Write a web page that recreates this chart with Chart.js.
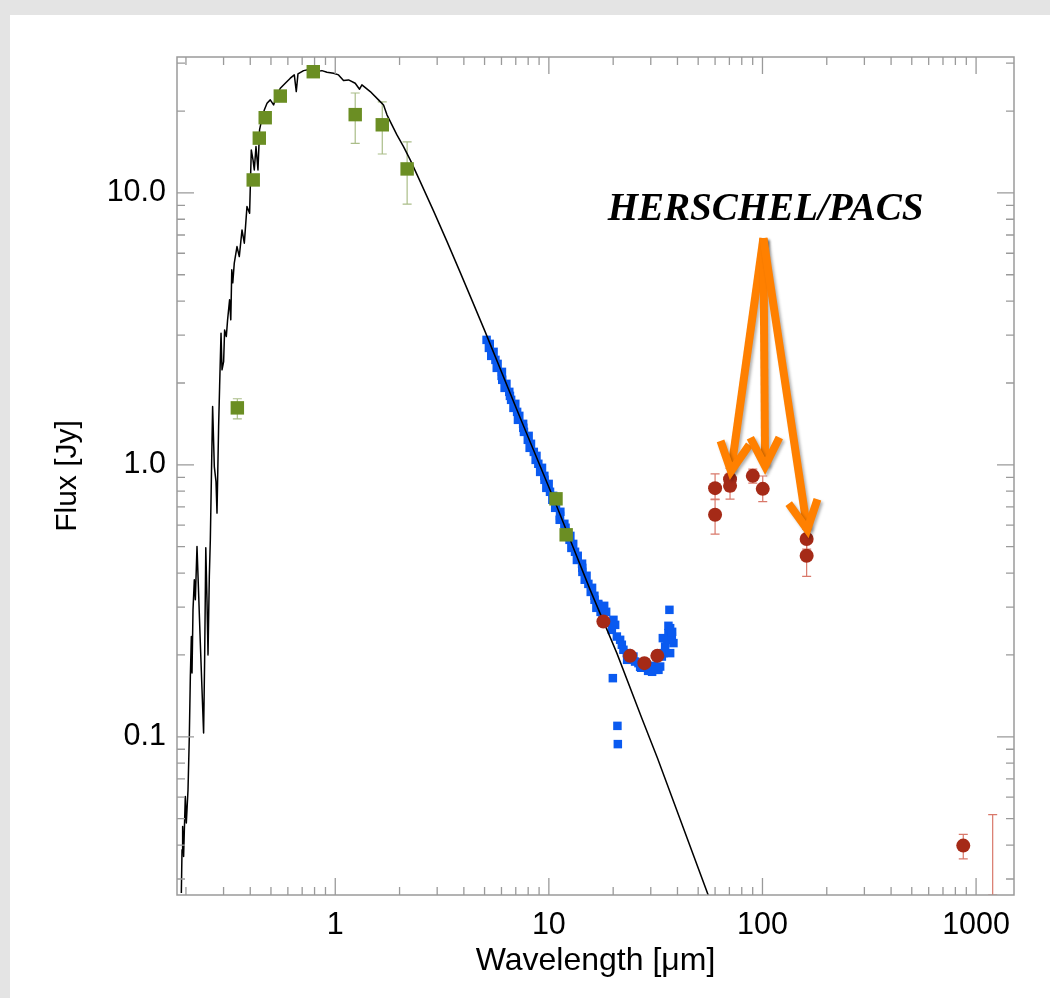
<!DOCTYPE html>
<html>
<head>
<meta charset="utf-8">
<script src="https://cdn.jsdelivr.net/npm/chart.js@4.4.1/dist/chart.umd.min.js"></script>
<style>
html,body{margin:0;padding:0;background:#e4e4e4;width:1050px;height:998px;overflow:hidden;}
#wrap{position:absolute;left:10px;top:15px;width:1040px;height:983px;background:#fff;}
canvas{display:block;}
</style>
</head>
<body>
<div id="wrap"><canvas id="c" width="1040" height="983"></canvas></div>
<script>
// ---------- axis ticks ----------
const xTickValues = [1, 10, 100, 1000];
const xTickLabels = ['1', '10', '100', '1000'];
const yTickValues = [0.1, 1, 10];
const yTickLabels = ['0.1', '1.0', '10.0'];
const xMinorTicks = [0.2,0.3,0.4,0.5,0.6,0.7,0.8,0.9,2,3,4,5,6,7,8,9,20,30,40,50,60,70,80,90,200,300,400,500,600,700,800,900];
const yMinorTicks = [0.03,0.04,0.05,0.06,0.07,0.08,0.09,0.2,0.3,0.4,0.5,0.6,0.7,0.8,0.9,2,3,4,5,6,7,8,9,20,30];

// ---------- stellar photosphere model (black line) ----------
const modelWave = [0.1903,0.1917,0.1930,0.1950,0.1986,0.2008,0.2045,0.2074,0.2097,0.2120,0.2135,0.2158,0.2189,0.2213,0.2253,0.2292,0.2335,0.2378,0.2419,0.2446,0.2477,0.2509,0.2537,0.2573,0.2601,0.2666,0.2715,0.2765,0.2795,0.2844,0.2875,0.2919,0.2950,0.3002,0.3034,0.3090,0.3133,0.3201,0.3243,0.3278,0.3313,0.3367,0.3467,0.3554,0.3660,0.3752,0.3861,0.3972,0.4045,0.4121,0.4178,0.4255,0.4347,0.4422,0.4540,0.4654,0.4792,0.4963,0.5143,0.5295,0.5530,0.5834,0.6159,0.6431,0.6569,0.6690,0.7110,0.7637,0.8213,0.8665,0.9145,0.9818,1.036,1.093,1.154,1.240,1.299,1.333,1.458,1.594,1.683,1.746,1.842,1.944,2.087,2.244,2.499,2.884,3.333,3.845,4.377,5.035,7.339,10.90,15.61,20.81,27.24,32.23,55.65,63.33];
const modelFlux = [0.02663,0.03842,0.04680,0.03630,0.06033,0.04817,0.06385,0.1003,0.1666,0.2337,0.1715,0.2930,0.3778,0.3190,0.5007,0.3385,0.2211,0.1489,0.1032,0.1919,0.4952,0.3190,0.2001,0.3885,0.5300,1.638,0.9857,0.8681,0.6645,1.383,1.941,3.050,2.235,2.398,3.135,2.963,3.413,4.043,3.413,5.212,4.669,5.515,6.348,5.832,7.311,6.533,8.905,8.421,14.39,13.22,12.15,14.80,12.15,17.04,18.82,20.19,21.37,21.98,21.06,22.59,24.26,25.31,26.41,27.16,23.58,27.39,28.16,28.50,27.93,28.16,27.79,27.55,27.16,25.88,26.03,25.31,24.06,24.95,23.58,21.98,21.06,19.36,17.78,16.34,14.80,13.22,11.00,8.587,6.633,5.103,4.008,3.083,1.489,0.7026,0.3470,0.2031,0.1171,0.0835,0.02624,0.01985];

// ---------- Spitzer/IRS spectrum (blue squares) ----------
const blueWave = [5.110,5.287,5.240,5.510,5.374,5.621,5.754,5.702,6.029,6.008,6.051,6.329,6.206,6.526,6.573,6.657,6.963,6.827,7.102,7.270,7.167,7.577,7.591,7.646,8.041,7.969,8.246,8.129,8.502,8.750,8.673,8.926,9.286,9.104,9.523,9.540,9.979,9.731,10.124,10.476,10.383,10.801,10.705,11.317,11.277,11.237,11.818,11.968,11.990,12.608,12.496,12.999,12.746,13.259,13.650,13.528,14.302,14.329,14.355,15.012,14.719,15.310,15.929,15.703,16.335,16.365,17.025,16.693,17.459,17.873,
  18.54,17.01,18.15,19.15,20.06,19.72,20.43,20.81,21.56,21.96,22.34,23.17,23.25,24.01,24.88,25.33,26.27,26.75,27.04,27.72,28.22,28.74,29.15,29.79,30.43,31.10,31.61,32.03,32.59,33.19,33.80,34.39,34.16,35.02,35.67,36.29,36.96,37.64,38.30,36.96,36.29,37.76,36.68,19.93,20.94,21.03];
const blueFlux = [2.881,2.785,2.692,2.603,2.516,2.432,2.351,2.273,2.197,2.124,2.054,1.985,1.919,1.855,1.793,1.734,1.676,1.620,1.566,1.514,1.464,1.415,1.368,1.322,1.278,1.236,1.195,1.155,1.116,1.079,1.043,1.009,0.975,0.942,0.911,0.881,0.851,0.823,0.796,0.769,0.744,0.719,0.695,0.672,0.649,0.628,0.607,0.587,0.567,0.548,0.530,0.512,0.495,0.479,0.463,0.447,0.433,0.418,0.404,0.391,0.378,0.365,0.353,0.341,0.330,0.319,0.308,0.298,0.288,0.279,
  0.2881,0.3057,0.3031,0.2648,0.2692,0.2473,0.2580,0.2337,0.2273,0.2180,0.2089,0.2031,0.1919,0.2001,0.1973,0.1891,0.1866,0.1809,0.1794,0.1866,0.1794,0.1839,0.1748,0.1789,0.1734,0.1824,0.1763,0.2001,0.1763,0.1813,0.1973,0.2031,0.2306,0.2148,0.2273,0.2405,0.2509,0.2337,0.2211,0.2031,0.2559,0.2432,0.2930,0.1643,0.1097,0.0940];

// ---------- optical / near-IR photometry (green squares) ----------
const greenWave = [0.348,0.413,0.441,0.470,0.553,0.789,1.24,1.66,2.17,10.8,12.05];
const greenFlux = [1.62,11.16,15.9,18.9,22.7,27.9,19.4,17.8,12.25,0.75,0.553];
const greenErrLo = [1.476,null,null,null,null,null,15.2,13.9,9.09,null,null];
const greenErrHi = [1.75,null,null,null,null,null,23.3,21.6,15.4,null,null];

// ---------- mid/far-IR and sub-mm photometry (red circles) ----------
const redWave = [18.0,24.0,28.0,32.2,60.0,60.0,70.5,70.5,90.1,100.3,161,161,871];
const redFlux = [0.2654,0.1985,0.1866,0.1985,0.821,0.655,0.886,0.837,0.911,0.816,0.534,0.463,0.0398];
const redErrLo = [null,null,null,null,0.744,0.556,0.80,0.748,0.856,0.733,0.49,0.389,0.0356];
const redErrHi = [null,null,null,null,0.927,0.748,0.97,0.93,0.964,0.91,0.58,0.53,0.0438];
const limitWave = [1196];
const limitHi = [0.0517];
const limitLo = [0.0262];

// ---------- annotation ----------
const annotationText = 'HERSCHEL/PACS';
const annotationAt = [103.4, 7.95];
const arrowFrom = [101, 6.82];
const arrowTipWave = [70.5, 102.9, 164];
const arrowTipFlux = [0.894, 0.932, 0.545];

const toPts = (xs, ys) => xs.map((v, i) => ({x: v, y: ys[i]}));

const overlay = {
  id: 'overlay',
  beforeDatasetsDraw(chart) {
    const {ctx, chartArea: a, scales: {x, y}} = chart;
    ctx.save();
    ctx.beginPath();
    ctx.rect(a.left, a.top, a.right - a.left, a.bottom - a.top);
    ctx.clip();
    chart.data.datasets.forEach(ds => {
      if (!ds.errLo) return;
      ctx.strokeStyle = ds.errColor;
      ctx.lineWidth = 1.2;
      ds.data.forEach((p, i) => {
        const lo = ds.errLo[i], hi = ds.errHi[i];
        if (lo == null) return;
        const px = x.getPixelForValue(p.x), y1 = y.getPixelForValue(lo), y2 = y.getPixelForValue(hi);
        ctx.beginPath();
        ctx.moveTo(px, y1); ctx.lineTo(px, y2);
        ctx.moveTo(px - 4.5, y1); ctx.lineTo(px + 4.5, y1);
        ctx.moveTo(px - 4.5, y2); ctx.lineTo(px + 4.5, y2);
        ctx.stroke();
      });
    });
    ctx.strokeStyle = '#d9786a';
    limitWave.forEach((w, i) => {
      const px = x.getPixelForValue(w), y1 = y.getPixelForValue(limitLo[i]), y2 = y.getPixelForValue(limitHi[i]);
      ctx.beginPath();
      ctx.moveTo(px, y1); ctx.lineTo(px, y2);
      ctx.moveTo(px - 4.5, y1); ctx.lineTo(px + 4.5, y1);
      ctx.moveTo(px - 4.5, y2); ctx.lineTo(px + 4.5, y2);
      ctx.stroke();
    });
    ctx.restore();
  },
  afterDatasetsDraw(chart) {
    const {ctx, chartArea: a, scales: {x, y}} = chart;
    ctx.save();
    // frame
    ctx.strokeStyle = '#9a9a9a';
    ctx.lineWidth = 1.5;
    ctx.strokeRect(a.left, a.top, a.right - a.left, a.bottom - a.top);
    ctx.lineWidth = 1.3;
    const tickX = (v, len) => {
      const px = x.getPixelForValue(v);
      ctx.beginPath();
      ctx.moveTo(px, a.bottom); ctx.lineTo(px, a.bottom - len);
      ctx.moveTo(px, a.top); ctx.lineTo(px, a.top + len);
      ctx.stroke();
    };
    const tickY = (v, len) => {
      const py = y.getPixelForValue(v);
      ctx.beginPath();
      ctx.moveTo(a.left, py); ctx.lineTo(a.left + len, py);
      ctx.moveTo(a.right, py); ctx.lineTo(a.right - len, py);
      ctx.stroke();
    };
    xTickValues.forEach(v => tickX(v, 17));
    xMinorTicks.forEach(v => tickX(v, 8));
    yTickValues.forEach(v => tickY(v, 17));
    yMinorTicks.forEach(v => tickY(v, 8));
    ctx.restore();

    // arrows
    ctx.save();
    ctx.strokeStyle = '#ff8000';
    ctx.lineWidth = 8;
    ctx.lineJoin = 'miter';
    ctx.lineCap = 'butt';
    ctx.shadowColor = 'rgba(0,0,0,0.3)';
    ctx.shadowOffsetX = 2;
    ctx.shadowOffsetY = 2;
    ctx.shadowBlur = 3;
    const O = {x: x.getPixelForValue(arrowFrom[0]), y: y.getPixelForValue(arrowFrom[1])};
    arrowTipWave.forEach((tw, i) => {
      const T0 = {x: x.getPixelForValue(tw), y: y.getPixelForValue(arrowTipFlux[i])};
      const dx = O.x - T0.x, dy = O.y - T0.y, L = Math.hypot(dx, dy);
      const ux = dx / L, uy = dy / L;
      const T = {x: T0.x + 7 * ux, y: T0.y + 7 * uy};
      const ang = 27 * Math.PI / 180, len = 32;
      const arm = s => ({x: T.x + len * (ux * Math.cos(s) - uy * Math.sin(s)), y: T.y + len * (ux * Math.sin(s) + uy * Math.cos(s))});
      const A = arm(ang), B = arm(-ang);
      ctx.beginPath(); ctx.moveTo(O.x, O.y); ctx.lineTo(T.x, T.y); ctx.stroke();
      ctx.beginPath(); ctx.moveTo(A.x, A.y); ctx.lineTo(T.x, T.y); ctx.lineTo(B.x, B.y); ctx.stroke();
    });
    ctx.restore();

    // label
    ctx.save();
    ctx.fillStyle = '#000';
    ctx.font = 'italic bold 39px "Liberation Serif", "DejaVu Serif", serif';
    ctx.textAlign = 'center';
    ctx.textBaseline = 'alphabetic';
    ctx.fillText(annotationText, x.getPixelForValue(annotationAt[0]), y.getPixelForValue(annotationAt[1]));
    ctx.restore();
  }
};

const sans = '"Liberation Sans", Arial, Helvetica, sans-serif';

new Chart(document.getElementById('c'), {
  type: 'scatter',
  data: {
    datasets: [
      {
        label: 'IR photometry', data: toPts(redWave, redFlux),
        pointStyle: 'circle', pointRadius: 7, pointBackgroundColor: '#a52a17', backgroundColor: '#a52a17',
        pointBorderWidth: 0, errLo: redErrLo, errHi: redErrHi, errColor: '#d9786a'
      },
      {
        label: 'Optical/NIR photometry', data: toPts(greenWave, greenFlux),
        pointStyle: 'rect', pointRadius: 9.5, pointBackgroundColor: '#6b8e23', backgroundColor: '#6b8e23',
        pointBorderWidth: 0, errLo: greenErrLo, errHi: greenErrHi, errColor: '#aabd88'
      },
      {
        label: 'Photosphere model', data: toPts(modelWave, modelFlux),
        showLine: true, borderColor: '#000', borderWidth: 1.5, pointRadius: 0,
        borderJoinStyle: 'round', tension: 0, fill: false
      },
      {
        label: 'IRS spectrum', data: toPts(blueWave, blueFlux),
        pointStyle: 'rect', pointRadius: 6, pointBackgroundColor: '#0a5af0', backgroundColor: '#0a5af0',
        pointBorderWidth: 0
      }
    ]
  },
  options: {
    responsive: false,
    animation: false,
    events: [],
    layout: {padding: {left: 0, right: 36, top: 42, bottom: 0}},
    plugins: {legend: {display: false}, tooltip: {enabled: false}},
    scales: {
      x: {
        type: 'logarithmic', min: 0.1816, max: 1505,
        grid: {display: false, drawTicks: false}, border: {display: false},
        afterBuildTicks: s => { s.ticks = xTickValues.map(v => ({value: v})); },
        afterFit: s => { s.height = 103; },
        ticks: {
          padding: 12, color: '#000', font: {family: sans, size: 30.5}, maxRotation: 0, autoSkip: false,
          callback: (v, i) => xTickLabels[i]
        },
        title: {display: true, text: 'Wavelength [μm]', color: '#000', font: {family: sans, size: 32}, padding: {top: 0, bottom: 18}}
      },
      y: {
        type: 'logarithmic', min: 0.0262, max: 31.6,
        grid: {display: false, drawTicks: false}, border: {display: false},
        afterBuildTicks: s => { s.ticks = yTickValues.map(v => ({value: v})); },
        afterFit: s => { s.width = 167; },
        ticks: {
          padding: 11, color: '#000', font: {family: sans, size: 30.5}, autoSkip: false,
          callback: (v, i) => yTickLabels[i]
        },
        title: {display: true, text: 'Flux [Jy]', color: '#000', font: {family: sans, size: 30}, padding: {top: 40, bottom: 0}}
      }
    }
  },
  plugins: [overlay]
});
</script>
</body>
</html>
